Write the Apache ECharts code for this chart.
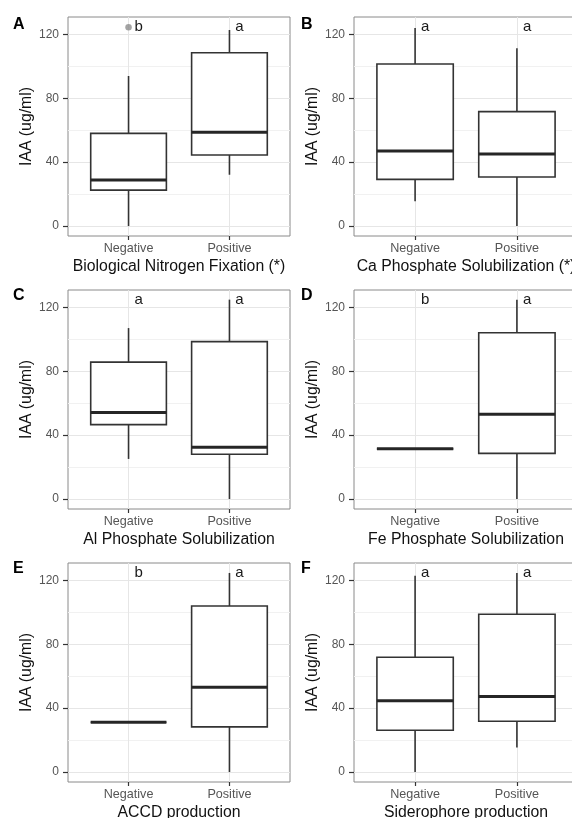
<!DOCTYPE html>
<html>
<head>
<meta charset="utf-8">
<script src="https://cdn.jsdelivr.net/npm/echarts@6/dist/echarts.min.js"></script>
<style>
html,body{margin:0;padding:0;background:#fff;}
#chart{width:572px;height:818px;}
</style>
</head>
<body>
<div id="chart"></div>
<script>
// ---- data ----
const categories = ['Negative', 'Positive'];
const panelTags = ['A', 'B', 'C', 'D', 'E', 'F'];
const xTitles = [
  'Biological Nitrogen Fixation (*)',
  'Ca Phosphate Solubilization (*)',
  'Al Phosphate Solubilization',
  'Fe Phosphate Solubilization',
  'ACCD production',
  'Siderophore production'
];
const yTitle = 'IAA (ug/ml)';
// [lower whisker, Q1, median, Q3, upper whisker]
const negativeBoxes = [
  [0, 22.5, 28.8, 58.0, 93.9],
  [15.5, 29.2, 47.0, 101.4, 124.0],
  [25.1, 46.6, 54.2, 85.7, 107.0],
  [31.4, 31.4, 31.4, 31.4, 31.4],
  [31.2, 31.2, 31.2, 31.2, 31.2],
  [0, 26.2, 44.6, 71.8, 122.9]
];
const positiveBoxes = [
  [32.1, 44.5, 58.7, 108.5, 122.7],
  [0, 30.7, 45.1, 71.6, 111.3],
  [0, 28.0, 32.4, 98.5, 124.8],
  [0, 28.6, 53.1, 104.1, 124.8],
  [0, 28.3, 53.0, 103.9, 124.6],
  [15.3, 31.8, 47.3, 98.8, 124.6]
];
const negativeLetters = ['b', 'a', 'a', 'b', 'b', 'a'];
const positiveLetters = ['a', 'a', 'a', 'a', 'a', 'a'];
// outliers per panel: [category, value]
const outliers = [
  [['Negative', 124.4]],
  [], [], [], [], []
];
const letterValue = 124.6;
const yTicks = [0, 40, 80, 120];
const yMinorTicks = [20, 60, 100];
const yMin = -6.23;
const yMax = 130.83;

// ---- layout ----
const FONT = '"Liberation Sans", Arial, sans-serif';
const colLeft = [68, 354];
const rowTop = [17, 290, 563];
const plotW = 222;
const plotH = 219;
const tagTop = [17, 288, 561];
const tagLeft = [13, 301];

const catPos = c => categories.indexOf(c) + 1;

const grids = [], xAxes = [], yAxes = [], series = [], titles = [];

panelTags.forEach((tag, i) => {
  const col = i % 2, row = Math.floor(i / 2);
  grids.push({
    left: colLeft[col], top: rowTop[row], width: plotW + col * 2, height: plotH,
    show: true, borderColor: '#8a8a8a', borderWidth: 1, backgroundColor: '#fff',
    containLabel: false, outerBoundsMode: 'none'
  });
  xAxes.push({
    gridIndex: i, type: 'value', min: 0.4, max: 2.6, position: 'bottom',
    name: xTitles[i], nameLocation: 'middle', nameGap: 23,
    nameTextStyle: { fontFamily: FONT, fontSize: 15.8, color: '#111' },
    axisLine: { show: false, onZero: false },
    axisTick: { show: true, length: 4, customValues: [1, 2], lineStyle: { color: '#333', width: 1.2 } },
    axisLabel: {
      customValues: [1, 2], margin: 6.5,
      formatter: v => categories[Math.round(v) - 1],
      fontFamily: FONT, fontSize: 12.6, color: '#555'
    },
    splitLine: { show: true, lineStyle: { color: '#e6e6e6', width: 1 } }
  });
  yAxes.push({
    gridIndex: i, type: 'value', min: yMin, max: yMax, position: 'left',
    name: yTitle, nameLocation: 'middle', nameGap: 31,
    nameTextStyle: { fontFamily: FONT, fontSize: 15.8, color: '#111' },
    axisLine: { show: false, onZero: false },
    axisTick: { show: true, length: 5, customValues: yTicks, lineStyle: { color: '#333', width: 1.2 } },
    axisLabel: { customValues: yTicks, margin: 9, fontFamily: FONT, fontSize: 12, color: '#555' },
    splitLine: { show: true, lineStyle: { color: '#e6e6e6', width: 1 } }
  });
  yAxes.push({
    gridIndex: i, type: 'value', min: yMin, max: yMax, position: 'left',
    axisLine: { show: false, onZero: false },
    axisTick: { show: false, customValues: yMinorTicks },
    axisLabel: { show: false, customValues: yMinorTicks },
    splitLine: { show: true, lineStyle: { color: '#f1f1f1', width: 1 } }
  });
  const yIdx = i * 2;
  const boxData = [
    [1].concat(negativeBoxes[i]),
    [2].concat(positiveBoxes[i])
  ];
  series.push({
    type: 'custom', xAxisIndex: i, yAxisIndex: yIdx,
    data: boxData,
    encode: { x: 0, y: [1, 2, 3, 4, 5] },
    renderItem: (params, api) => {
      const x = api.value(0);
      const lo = api.coord([x, api.value(1)]);
      const q1 = api.coord([x, api.value(2)]);
      const md = api.coord([x, api.value(3)]);
      const q3 = api.coord([x, api.value(4)]);
      const hi = api.coord([x, api.value(5)]);
      const hw = api.size([0.75, 0])[0] / 2;
      const stroke = { stroke: '#333', lineWidth: 1.6, fill: null };
      return {
        type: 'group',
        children: [
          { type: 'line', shape: { x1: hi[0], y1: hi[1], x2: q3[0], y2: q3[1] }, style: stroke },
          { type: 'line', shape: { x1: lo[0], y1: lo[1], x2: q1[0], y2: q1[1] }, style: stroke },
          { type: 'rect', shape: { x: q3[0] - hw, y: q3[1], width: hw * 2, height: q1[1] - q3[1] },
            style: { stroke: '#333', lineWidth: 1.6, fill: '#fff' } },
          { type: 'line', shape: { x1: md[0] - hw, y1: md[1], x2: md[0] + hw, y2: md[1] },
            style: { stroke: '#262626', lineWidth: 3 } }
        ]
      };
    },
    z: 3
  });
  series.push({
    type: 'scatter', xAxisIndex: i, yAxisIndex: yIdx,
    data: outliers[i].map(o => [catPos(o[0]), o[1]]),
    symbolSize: 6.5, itemStyle: { color: '#8c8c8c' }, z: 4
  });
  series.push({
    type: 'custom', xAxisIndex: i, yAxisIndex: yIdx,
    data: [[1, letterValue, negativeLetters[i]], [2, letterValue, positiveLetters[i]]],
    renderItem: (params, api) => {
      const p = api.coord([api.value(0), api.value(1)]);
      const off = api.size([0.1, 0])[0];
      return {
        type: 'text', x: p[0] + off, y: p[1],
        style: { text: api.value(2), fontFamily: FONT, fontSize: 15, fill: '#1a1a1a', align: 'center', verticalAlign: 'middle' }
      };
    },
    dimensions: ['x', 'y', { name: 'letter', type: 'ordinal' }],
    z: 5
  });
  titles.push({
    text: tag, left: tagLeft[col], top: tagTop[row], padding: 0,
    textStyle: { fontFamily: FONT, fontSize: 16, fontWeight: 'bold', color: '#000' }
  });
});

const chart = echarts.init(document.getElementById('chart'), null, { renderer: 'canvas' });
chart.setOption({
  animation: false,
  backgroundColor: '#fff',
  title: titles,
  grid: grids,
  xAxis: xAxes,
  yAxis: yAxes,
  series: series
});
</script>
</body>
</html>
